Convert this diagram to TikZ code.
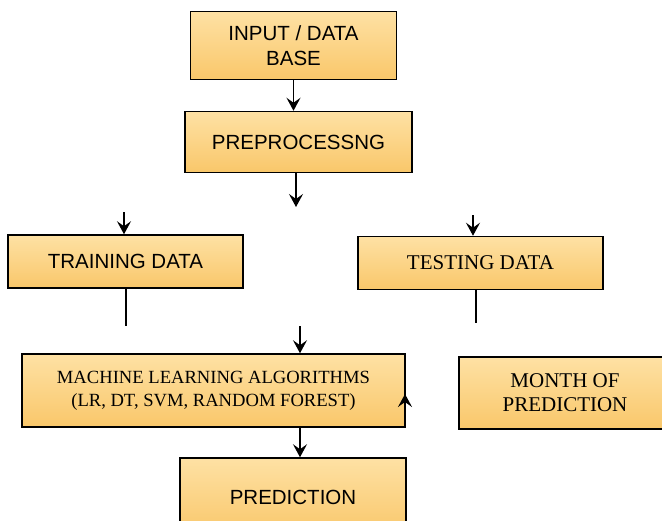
\documentclass[tikz,border=0pt]{standalone}
\usepackage{fontspec}
\setmainfont{Liberation Serif}
\newfontfamily\arialf{Liberation Sans}
\usetikzlibrary{arrows.meta}
\tikzset{
  box/.style={draw=black, line width=1.5pt, top color=boxtop, bottom color=boxbot, align=center, inner sep=0pt},
  sansbox/.style={box, font=\arialf\fontsize{20.5}{25}\selectfont},
  serifbox/.style={box, font=\fontsize{21}{24}\selectfont},
  conn/.style={line width=1.6pt, -{Stealth[length=13pt,width=14pt,inset=5pt]}},
  plain/.style={line width=1.5pt}
}
\definecolor{boxtop}{HTML}{FEE1A4}
\definecolor{boxbot}{HTML}{F9C76A}
\begin{document}
\begin{tikzpicture}[x=1pt,y=-1pt]
\useasboundingbox (0,0) rectangle (662,520);
\clip (0,0) rectangle (662,520);
\fill[white] (0,0) rectangle (662,520);
\node[sansbox, minimum width=206pt, minimum height=68pt] (input) at (293.5,45.5) {INPUT / DATA\\BASE};
\node[sansbox, minimum width=227pt, minimum height=61pt] (prep) at (298.5,142) {PREPROCESSNG};
\node[sansbox, minimum width=235pt, minimum height=53pt] (train) at (125.5,261.5) {TRAINING DATA};
\node[serifbox, minimum width=245pt, minimum height=53pt] (test) at (480.5,263) {TESTING DATA};
\node[box, font=\fontsize{18.6}{23}\selectfont, minimum width=383pt, minimum height=73pt] (ml) at (213.5,390.5) {MACHINE LEARNING ALGORITHMS\\(LR, DT, SVM, RANDOM FOREST)};
\node[sansbox, minimum width=226pt, minimum height=78pt] (pred) at (293,497) {PREDICTION};
\node[serifbox, minimum width=212pt, minimum height=72pt] (month) at (565,393) {MONTH OF\\PREDICTION};
% free ends
\coordinate (p1) at (296,173);
\coordinate (p1e) at (296,207);
\coordinate (t1) at (124,212);
\coordinate (s1) at (473,215);
\coordinate (t2) at (126,326);
\coordinate (s2) at (476,323);
\coordinate (m1) at (300,326);
\coordinate (mr1) at (405,412);
\coordinate (mr2) at (405,394);
% connectors
\draw[conn] (input.south) -- (input.south |- prep.north);
\draw[conn] (p1) -- (p1e);
\draw[conn] (t1) -- (t1 |- train.north);
\draw[conn] (s1) -- (s1 |- test.north);
\draw[plain] (t2 |- train.south) -- (t2);
\draw[plain] (s2 |- test.south) -- (s2);
\draw[conn] (m1) -- (m1 |- ml.north);
\draw[conn] (mr1) -- (mr2);
\draw[conn] (m1 |- ml.south) -- (m1 |- pred.north);
\end{tikzpicture}
\end{document}
